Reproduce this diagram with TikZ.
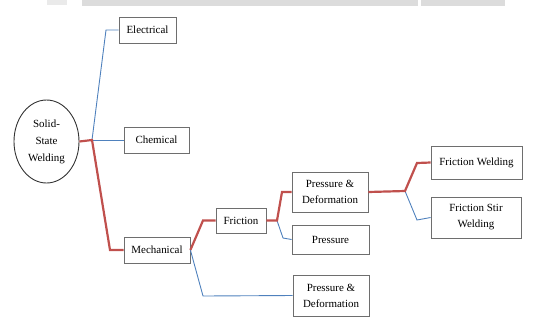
\documentclass[tikz,border=0pt]{standalone}
\usepackage{fontspec}
\setmainfont{Liberation Serif}
\usetikzlibrary{positioning,shapes,fit,arrows}

\definecolor{branchred}{HTML}{C0504D}
\definecolor{branchblue}{HTML}{4F81BD}
\definecolor{boxgray}{HTML}{6E6E6E}
\definecolor{bargray}{HTML}{DCDCDC}

\tikzset{
  kind/.style={draw=boxgray, line width=0.8pt, fill=white, align=center,
    inner sep=0pt, font=\fontsize{11}{16}\selectfont},
  hot/.style={draw=branchred, line width=2.2pt},
  cold/.style={draw=branchblue, line width=0.9pt}
}

\begin{document}
\begin{tikzpicture}[x=1bp,y=-1bp]
                \useasboundingbox (0,0) rectangle (545,320);
                % strip at the top edge
                \fill[bargray] (82,0) rectangle (418,6);
                \fill[bargray] (421,0) rectangle (505,6);
                \fill[bargray!60] (47,0) rectangle (67,5);
                \node[draw=black!80, line width=0.9pt, ellipse, minimum width=65bp, minimum height=83bp,
                  align=center, inner sep=0pt, font=\fontsize{11}{17}\selectfont] (root) at (46.5,141.5) {Solid-\\State\\Welding};
                \node[kind, minimum width=57bp, minimum height=26bp] (elec) at (147.5,30) {Electrical};
                \node[kind, minimum width=65bp, minimum height=26bp] (chem) at (156.5,140) {Chemical};
                \node[kind, minimum width=66bp, minimum height=26bp] (mech) at (157,250) {Mechanical};
                \node[kind, minimum width=50bp, minimum height=25bp] (fric) at (241,220.5) {Friction};
                \node[kind, minimum width=76bp, minimum height=40bp] (pd) at (330,192) {Pressure \&\\Deformation};
                \node[kind, minimum width=77bp, minimum height=29bp] (pres) at (330.5,239.5) {Pressure};
                \node[kind, minimum width=76bp, minimum height=41bp] (pd2) at (331,295.5) {Pressure \&\\Deformation};
                \node[kind, minimum width=91bp, minimum height=33bp] (fw) at (476.5,162.5) {Friction Welding};
                \node[kind, minimum width=90bp, minimum height=41bp] (fsw) at (476,217.5) {Friction Stir\\Welding};
                % bends
                \coordinate (j1) at (92,140);
                \coordinate (j2) at (277,220.5);
                \coordinate (j3) at (405,191);
                % branches
                \draw[cold] (j1) -- (106,30) -- (elec.west);
                \draw[cold] (j1) -- (chem.west);
                \draw[cold] (mech.east) -- (203,296) -- (pd2.west);
                \draw[cold] (j2) -- (283,238) -- (pres.west);
                \draw[cold] (j3) -- (417,220) -- (fsw.west);
                \draw[hot] (root.east) -- (j1) -- (110,250) -- (mech.west);
                \draw[hot] (mech.east) -- (203,220.5) -- (fric.west);
                \draw[hot] (fric.east) -- (j2) -- (282,192) -- (pd.west);
                \draw[hot] (pd.east) -- (j3) -- (417,163) -- (fw.west);
            \end{tikzpicture}
\end{document}
